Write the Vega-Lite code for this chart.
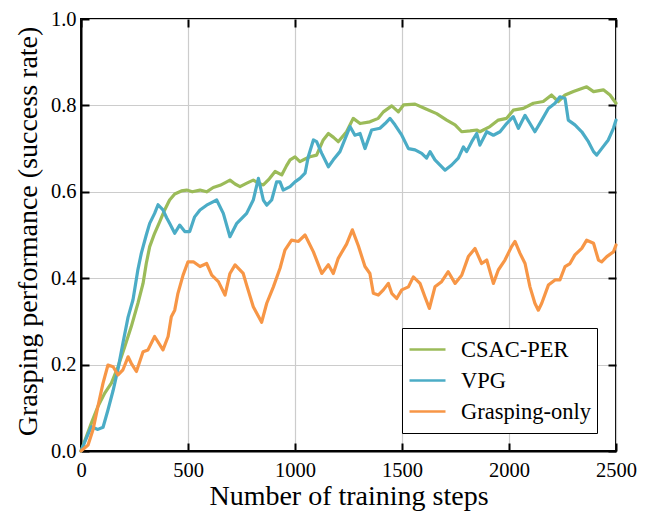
{
  "$schema": "https://vega.github.io/schema/vega-lite/v6.json",
  "width": 535,
  "height": 432,
  "autosize": {"type": "none"},
  "padding": {"left": 81, "top": 19, "right": 30, "bottom": 60},
  "background": "white",
  "config": {
    "font": "Liberation Serif",
    "style": {"guide-label": {"font": "Liberation Serif"}, "guide-title": {"font": "Liberation Serif"}},
    "view": {"stroke": "black", "strokeWidth": 2},
    "axis": {
      "labelFont": "Liberation Serif",
      "titleFont": "Liberation Serif",
      "labelColor": "black",
      "titleColor": "black",
      "labelFontSize": 20.5,
      "titleFontSize": 28,
      "titleFontWeight": "normal",
      "domainColor": "black",
      "domainWidth": 2,
      "tickColor": "black",
      "tickWidth": 2,
      "tickSize": -8,
      "gridColor": "#cccccc",
      "gridWidth": 1.2,
      "gridOpacity": 1
    },
    "legend": {
      "labelFont": "Liberation Serif",
      "labelFontSize": 22.5,
      "labelColor": "black"
    }
  },
  "datasets": {
    "curves": [
      {"method": "CSAC-PER", "step": 0, "rate": 0},
      {"method": "CSAC-PER", "step": 48, "rate": 0.064},
      {"method": "CSAC-PER", "step": 79, "rate": 0.103},
      {"method": "CSAC-PER", "step": 111, "rate": 0.134},
      {"method": "CSAC-PER", "step": 142, "rate": 0.157},
      {"method": "CSAC-PER", "step": 173, "rate": 0.195},
      {"method": "CSAC-PER", "step": 204, "rate": 0.241},
      {"method": "CSAC-PER", "step": 235, "rate": 0.288},
      {"method": "CSAC-PER", "step": 266, "rate": 0.342},
      {"method": "CSAC-PER", "step": 290, "rate": 0.388},
      {"method": "CSAC-PER", "step": 305, "rate": 0.434},
      {"method": "CSAC-PER", "step": 321, "rate": 0.473},
      {"method": "CSAC-PER", "step": 344, "rate": 0.504},
      {"method": "CSAC-PER", "step": 368, "rate": 0.531},
      {"method": "CSAC-PER", "step": 391, "rate": 0.558},
      {"method": "CSAC-PER", "step": 414, "rate": 0.581},
      {"method": "CSAC-PER", "step": 438, "rate": 0.595},
      {"method": "CSAC-PER", "step": 469, "rate": 0.602},
      {"method": "CSAC-PER", "step": 494, "rate": 0.604},
      {"method": "CSAC-PER", "step": 520, "rate": 0.6},
      {"method": "CSAC-PER", "step": 556, "rate": 0.604},
      {"method": "CSAC-PER", "step": 587, "rate": 0.6},
      {"method": "CSAC-PER", "step": 618, "rate": 0.61},
      {"method": "CSAC-PER", "step": 650, "rate": 0.615},
      {"method": "CSAC-PER", "step": 681, "rate": 0.623},
      {"method": "CSAC-PER", "step": 696, "rate": 0.627},
      {"method": "CSAC-PER", "step": 720, "rate": 0.618},
      {"method": "CSAC-PER", "step": 743, "rate": 0.612},
      {"method": "CSAC-PER", "step": 775, "rate": 0.62},
      {"method": "CSAC-PER", "step": 805, "rate": 0.627},
      {"method": "CSAC-PER", "step": 830, "rate": 0.62},
      {"method": "CSAC-PER", "step": 852, "rate": 0.616},
      {"method": "CSAC-PER", "step": 880, "rate": 0.63},
      {"method": "CSAC-PER", "step": 907, "rate": 0.647},
      {"method": "CSAC-PER", "step": 938, "rate": 0.639},
      {"method": "CSAC-PER", "step": 960, "rate": 0.66},
      {"method": "CSAC-PER", "step": 977, "rate": 0.674},
      {"method": "CSAC-PER", "step": 1000, "rate": 0.681},
      {"method": "CSAC-PER", "step": 1023, "rate": 0.67},
      {"method": "CSAC-PER", "step": 1047, "rate": 0.676},
      {"method": "CSAC-PER", "step": 1070, "rate": 0.681},
      {"method": "CSAC-PER", "step": 1101, "rate": 0.685},
      {"method": "CSAC-PER", "step": 1132, "rate": 0.72},
      {"method": "CSAC-PER", "step": 1156, "rate": 0.735},
      {"method": "CSAC-PER", "step": 1180, "rate": 0.726},
      {"method": "CSAC-PER", "step": 1202, "rate": 0.716},
      {"method": "CSAC-PER", "step": 1241, "rate": 0.739},
      {"method": "CSAC-PER", "step": 1272, "rate": 0.77},
      {"method": "CSAC-PER", "step": 1304, "rate": 0.758},
      {"method": "CSAC-PER", "step": 1350, "rate": 0.762},
      {"method": "CSAC-PER", "step": 1389, "rate": 0.77},
      {"method": "CSAC-PER", "step": 1413, "rate": 0.785},
      {"method": "CSAC-PER", "step": 1452, "rate": 0.799},
      {"method": "CSAC-PER", "step": 1483, "rate": 0.785},
      {"method": "CSAC-PER", "step": 1507, "rate": 0.801},
      {"method": "CSAC-PER", "step": 1561, "rate": 0.803},
      {"method": "CSAC-PER", "step": 1607, "rate": 0.793},
      {"method": "CSAC-PER", "step": 1662, "rate": 0.781},
      {"method": "CSAC-PER", "step": 1709, "rate": 0.766},
      {"method": "CSAC-PER", "step": 1748, "rate": 0.755},
      {"method": "CSAC-PER", "step": 1779, "rate": 0.739},
      {"method": "CSAC-PER", "step": 1818, "rate": 0.741},
      {"method": "CSAC-PER", "step": 1849, "rate": 0.743},
      {"method": "CSAC-PER", "step": 1864, "rate": 0.739},
      {"method": "CSAC-PER", "step": 1911, "rate": 0.751},
      {"method": "CSAC-PER", "step": 1950, "rate": 0.766},
      {"method": "CSAC-PER", "step": 1989, "rate": 0.77},
      {"method": "CSAC-PER", "step": 2020, "rate": 0.789},
      {"method": "CSAC-PER", "step": 2067, "rate": 0.793},
      {"method": "CSAC-PER", "step": 2114, "rate": 0.805},
      {"method": "CSAC-PER", "step": 2160, "rate": 0.809},
      {"method": "CSAC-PER", "step": 2199, "rate": 0.824},
      {"method": "CSAC-PER", "step": 2230, "rate": 0.809},
      {"method": "CSAC-PER", "step": 2262, "rate": 0.824},
      {"method": "CSAC-PER", "step": 2301, "rate": 0.832},
      {"method": "CSAC-PER", "step": 2363, "rate": 0.843},
      {"method": "CSAC-PER", "step": 2395, "rate": 0.832},
      {"method": "CSAC-PER", "step": 2441, "rate": 0.836},
      {"method": "CSAC-PER", "step": 2472, "rate": 0.824},
      {"method": "CSAC-PER", "step": 2500, "rate": 0.805},

      {"method": "VPG", "step": 0, "rate": 0},
      {"method": "VPG", "step": 25, "rate": 0.03},
      {"method": "VPG", "step": 48, "rate": 0.056},
      {"method": "VPG", "step": 79, "rate": 0.05},
      {"method": "VPG", "step": 103, "rate": 0.055},
      {"method": "VPG", "step": 126, "rate": 0.095},
      {"method": "VPG", "step": 150, "rate": 0.14},
      {"method": "VPG", "step": 173, "rate": 0.19},
      {"method": "VPG", "step": 196, "rate": 0.25},
      {"method": "VPG", "step": 220, "rate": 0.31},
      {"method": "VPG", "step": 243, "rate": 0.35},
      {"method": "VPG", "step": 266, "rate": 0.42},
      {"method": "VPG", "step": 282, "rate": 0.458},
      {"method": "VPG", "step": 305, "rate": 0.5},
      {"method": "VPG", "step": 321, "rate": 0.527},
      {"method": "VPG", "step": 344, "rate": 0.55},
      {"method": "VPG", "step": 360, "rate": 0.57},
      {"method": "VPG", "step": 383, "rate": 0.558},
      {"method": "VPG", "step": 400, "rate": 0.54},
      {"method": "VPG", "step": 414, "rate": 0.527},
      {"method": "VPG", "step": 438, "rate": 0.504},
      {"method": "VPG", "step": 461, "rate": 0.523},
      {"method": "VPG", "step": 485, "rate": 0.508},
      {"method": "VPG", "step": 508, "rate": 0.508},
      {"method": "VPG", "step": 531, "rate": 0.542},
      {"method": "VPG", "step": 556, "rate": 0.558},
      {"method": "VPG", "step": 587, "rate": 0.569},
      {"method": "VPG", "step": 610, "rate": 0.575},
      {"method": "VPG", "step": 634, "rate": 0.581},
      {"method": "VPG", "step": 665, "rate": 0.55},
      {"method": "VPG", "step": 696, "rate": 0.496},
      {"method": "VPG", "step": 728, "rate": 0.527},
      {"method": "VPG", "step": 774, "rate": 0.55},
      {"method": "VPG", "step": 805, "rate": 0.581},
      {"method": "VPG", "step": 829, "rate": 0.631},
      {"method": "VPG", "step": 852, "rate": 0.581},
      {"method": "VPG", "step": 868, "rate": 0.569},
      {"method": "VPG", "step": 891, "rate": 0.581},
      {"method": "VPG", "step": 914, "rate": 0.623},
      {"method": "VPG", "step": 930, "rate": 0.623},
      {"method": "VPG", "step": 945, "rate": 0.604},
      {"method": "VPG", "step": 977, "rate": 0.612},
      {"method": "VPG", "step": 1000, "rate": 0.623},
      {"method": "VPG", "step": 1023, "rate": 0.631},
      {"method": "VPG", "step": 1047, "rate": 0.643},
      {"method": "VPG", "step": 1062, "rate": 0.681},
      {"method": "VPG", "step": 1086, "rate": 0.72},
      {"method": "VPG", "step": 1101, "rate": 0.716},
      {"method": "VPG", "step": 1125, "rate": 0.689},
      {"method": "VPG", "step": 1156, "rate": 0.658},
      {"method": "VPG", "step": 1179, "rate": 0.674},
      {"method": "VPG", "step": 1210, "rate": 0.693},
      {"method": "VPG", "step": 1257, "rate": 0.751},
      {"method": "VPG", "step": 1280, "rate": 0.731},
      {"method": "VPG", "step": 1304, "rate": 0.735},
      {"method": "VPG", "step": 1327, "rate": 0.7},
      {"method": "VPG", "step": 1358, "rate": 0.743},
      {"method": "VPG", "step": 1397, "rate": 0.747},
      {"method": "VPG", "step": 1421, "rate": 0.758},
      {"method": "VPG", "step": 1444, "rate": 0.77},
      {"method": "VPG", "step": 1467, "rate": 0.755},
      {"method": "VPG", "step": 1499, "rate": 0.731},
      {"method": "VPG", "step": 1530, "rate": 0.7},
      {"method": "VPG", "step": 1561, "rate": 0.697},
      {"method": "VPG", "step": 1592, "rate": 0.689},
      {"method": "VPG", "step": 1615, "rate": 0.678},
      {"method": "VPG", "step": 1631, "rate": 0.693},
      {"method": "VPG", "step": 1654, "rate": 0.674},
      {"method": "VPG", "step": 1678, "rate": 0.662},
      {"method": "VPG", "step": 1701, "rate": 0.65},
      {"method": "VPG", "step": 1732, "rate": 0.662},
      {"method": "VPG", "step": 1763, "rate": 0.678},
      {"method": "VPG", "step": 1787, "rate": 0.704},
      {"method": "VPG", "step": 1802, "rate": 0.693},
      {"method": "VPG", "step": 1826, "rate": 0.716},
      {"method": "VPG", "step": 1849, "rate": 0.735},
      {"method": "VPG", "step": 1864, "rate": 0.708},
      {"method": "VPG", "step": 1896, "rate": 0.739},
      {"method": "VPG", "step": 1927, "rate": 0.731},
      {"method": "VPG", "step": 1958, "rate": 0.739},
      {"method": "VPG", "step": 1989, "rate": 0.758},
      {"method": "VPG", "step": 2020, "rate": 0.774},
      {"method": "VPG", "step": 2044, "rate": 0.747},
      {"method": "VPG", "step": 2075, "rate": 0.777},
      {"method": "VPG", "step": 2098, "rate": 0.758},
      {"method": "VPG", "step": 2121, "rate": 0.739},
      {"method": "VPG", "step": 2153, "rate": 0.766},
      {"method": "VPG", "step": 2184, "rate": 0.793},
      {"method": "VPG", "step": 2215, "rate": 0.805},
      {"method": "VPG", "step": 2238, "rate": 0.82},
      {"method": "VPG", "step": 2262, "rate": 0.816},
      {"method": "VPG", "step": 2277, "rate": 0.766},
      {"method": "VPG", "step": 2308, "rate": 0.755},
      {"method": "VPG", "step": 2340, "rate": 0.739},
      {"method": "VPG", "step": 2371, "rate": 0.716},
      {"method": "VPG", "step": 2395, "rate": 0.693},
      {"method": "VPG", "step": 2410, "rate": 0.685},
      {"method": "VPG", "step": 2433, "rate": 0.7},
      {"method": "VPG", "step": 2464, "rate": 0.72},
      {"method": "VPG", "step": 2488, "rate": 0.747},
      {"method": "VPG", "step": 2500, "rate": 0.766},

      {"method": "Grasping-only", "step": 0, "rate": 0},
      {"method": "Grasping-only", "step": 33, "rate": 0.014},
      {"method": "Grasping-only", "step": 56, "rate": 0.049},
      {"method": "Grasping-only", "step": 79, "rate": 0.103},
      {"method": "Grasping-only", "step": 103, "rate": 0.157},
      {"method": "Grasping-only", "step": 126, "rate": 0.199},
      {"method": "Grasping-only", "step": 150, "rate": 0.195},
      {"method": "Grasping-only", "step": 173, "rate": 0.176},
      {"method": "Grasping-only", "step": 196, "rate": 0.188},
      {"method": "Grasping-only", "step": 220, "rate": 0.218},
      {"method": "Grasping-only", "step": 235, "rate": 0.203},
      {"method": "Grasping-only", "step": 259, "rate": 0.184},
      {"method": "Grasping-only", "step": 290, "rate": 0.23},
      {"method": "Grasping-only", "step": 313, "rate": 0.234},
      {"method": "Grasping-only", "step": 344, "rate": 0.265},
      {"method": "Grasping-only", "step": 383, "rate": 0.234},
      {"method": "Grasping-only", "step": 407, "rate": 0.265},
      {"method": "Grasping-only", "step": 422, "rate": 0.311},
      {"method": "Grasping-only", "step": 438, "rate": 0.326},
      {"method": "Grasping-only", "step": 453, "rate": 0.365},
      {"method": "Grasping-only", "step": 477, "rate": 0.407},
      {"method": "Grasping-only", "step": 500, "rate": 0.438},
      {"method": "Grasping-only", "step": 525, "rate": 0.438},
      {"method": "Grasping-only", "step": 556, "rate": 0.427},
      {"method": "Grasping-only", "step": 587, "rate": 0.434},
      {"method": "Grasping-only", "step": 611, "rate": 0.407},
      {"method": "Grasping-only", "step": 642, "rate": 0.392},
      {"method": "Grasping-only", "step": 673, "rate": 0.361},
      {"method": "Grasping-only", "step": 696, "rate": 0.411},
      {"method": "Grasping-only", "step": 720, "rate": 0.431},
      {"method": "Grasping-only", "step": 758, "rate": 0.411},
      {"method": "Grasping-only", "step": 774, "rate": 0.384},
      {"method": "Grasping-only", "step": 805, "rate": 0.334},
      {"method": "Grasping-only", "step": 844, "rate": 0.298},
      {"method": "Grasping-only", "step": 868, "rate": 0.342},
      {"method": "Grasping-only", "step": 899, "rate": 0.38},
      {"method": "Grasping-only", "step": 930, "rate": 0.423},
      {"method": "Grasping-only", "step": 953, "rate": 0.465},
      {"method": "Grasping-only", "step": 984, "rate": 0.488},
      {"method": "Grasping-only", "step": 1016, "rate": 0.485},
      {"method": "Grasping-only", "step": 1047, "rate": 0.5},
      {"method": "Grasping-only", "step": 1086, "rate": 0.461},
      {"method": "Grasping-only", "step": 1125, "rate": 0.411},
      {"method": "Grasping-only", "step": 1156, "rate": 0.431},
      {"method": "Grasping-only", "step": 1179, "rate": 0.411},
      {"method": "Grasping-only", "step": 1202, "rate": 0.446},
      {"method": "Grasping-only", "step": 1241, "rate": 0.479},
      {"method": "Grasping-only", "step": 1268, "rate": 0.512},
      {"method": "Grasping-only", "step": 1296, "rate": 0.475},
      {"method": "Grasping-only", "step": 1327, "rate": 0.427},
      {"method": "Grasping-only", "step": 1350, "rate": 0.411},
      {"method": "Grasping-only", "step": 1366, "rate": 0.365},
      {"method": "Grasping-only", "step": 1389, "rate": 0.361},
      {"method": "Grasping-only", "step": 1413, "rate": 0.373},
      {"method": "Grasping-only", "step": 1436, "rate": 0.388},
      {"method": "Grasping-only", "step": 1452, "rate": 0.365},
      {"method": "Grasping-only", "step": 1475, "rate": 0.353},
      {"method": "Grasping-only", "step": 1499, "rate": 0.373},
      {"method": "Grasping-only", "step": 1530, "rate": 0.38},
      {"method": "Grasping-only", "step": 1553, "rate": 0.403},
      {"method": "Grasping-only", "step": 1584, "rate": 0.388},
      {"method": "Grasping-only", "step": 1607, "rate": 0.357},
      {"method": "Grasping-only", "step": 1628, "rate": 0.33},
      {"method": "Grasping-only", "step": 1654, "rate": 0.38},
      {"method": "Grasping-only", "step": 1685, "rate": 0.392},
      {"method": "Grasping-only", "step": 1716, "rate": 0.415},
      {"method": "Grasping-only", "step": 1748, "rate": 0.388},
      {"method": "Grasping-only", "step": 1779, "rate": 0.407},
      {"method": "Grasping-only", "step": 1810, "rate": 0.45},
      {"method": "Grasping-only", "step": 1841, "rate": 0.469},
      {"method": "Grasping-only", "step": 1872, "rate": 0.434},
      {"method": "Grasping-only", "step": 1896, "rate": 0.442},
      {"method": "Grasping-only", "step": 1927, "rate": 0.388},
      {"method": "Grasping-only", "step": 1950, "rate": 0.419},
      {"method": "Grasping-only", "step": 1981, "rate": 0.442},
      {"method": "Grasping-only", "step": 2012, "rate": 0.473},
      {"method": "Grasping-only", "step": 2028, "rate": 0.485},
      {"method": "Grasping-only", "step": 2051, "rate": 0.458},
      {"method": "Grasping-only", "step": 2075, "rate": 0.434},
      {"method": "Grasping-only", "step": 2098, "rate": 0.38},
      {"method": "Grasping-only", "step": 2121, "rate": 0.342},
      {"method": "Grasping-only", "step": 2137, "rate": 0.326},
      {"method": "Grasping-only", "step": 2153, "rate": 0.342},
      {"method": "Grasping-only", "step": 2184, "rate": 0.384},
      {"method": "Grasping-only", "step": 2215, "rate": 0.396},
      {"method": "Grasping-only", "step": 2238, "rate": 0.396},
      {"method": "Grasping-only", "step": 2262, "rate": 0.427},
      {"method": "Grasping-only", "step": 2285, "rate": 0.434},
      {"method": "Grasping-only", "step": 2308, "rate": 0.454},
      {"method": "Grasping-only", "step": 2340, "rate": 0.469},
      {"method": "Grasping-only", "step": 2363, "rate": 0.488},
      {"method": "Grasping-only", "step": 2395, "rate": 0.481},
      {"method": "Grasping-only", "step": 2418, "rate": 0.442},
      {"method": "Grasping-only", "step": 2433, "rate": 0.438},
      {"method": "Grasping-only", "step": 2457, "rate": 0.45},
      {"method": "Grasping-only", "step": 2488, "rate": 0.461},
      {"method": "Grasping-only", "step": 2500, "rate": 0.477}
    ]
  },
  "data": {"name": "curves"},
  "layer": [
    {
      "mark": {"type": "line", "strokeWidth": 3.2, "strokeJoin": "round", "strokeCap": "round"},
      "encoding": {
        "x": {
          "field": "step", "type": "quantitative",
          "scale": {"domain": [0, 2500], "nice": false, "zero": false},
          "axis": {
            "orient": "bottom", "values": [0, 500, 1000, 1500, 2000, 2500], "format": "d",
            "title": "Number of training steps", "grid": true,
            "labelFont": "Liberation Serif", "titleFont": "Liberation Serif",
            "tickSize": -8, "ticks": true,
            "labelPadding": 17, "labelFlush": false,
            "titleBaseline": "alphabetic", "titleY": 53, "titleX": 267.5, "titleAnchor": "middle"
          }
        },
        "y": {
          "field": "rate", "type": "quantitative",
          "scale": {"domain": [0, 1], "nice": false},
          "axis": {
            "orient": "left", "values": [0, 0.2, 0.4, 0.6, 0.8, 1.0], "format": ".1f",
            "title": "Grasping performance (success rate)", "grid": true,
            "labelFont": "Liberation Serif", "titleFont": "Liberation Serif",
            "tickSize": -8, "ticks": true,
            "labelPadding": 13, "labelFlush": false,
            "titleBaseline": "alphabetic", "titleX": -45, "titleY": 212, "titleAngle": -90, "titleAnchor": "middle"
          }
        },
        "color": {
          "field": "method", "type": "nominal", "sort": null,
          "scale": {"domain": ["CSAC-PER", "VPG", "Grasping-only"], "range": ["#9BBB59", "#4BACC6", "#F79646"]},
          "legend": {
            "title": null, "orient": "none", "legendX": 321, "legendY": 309,
            "symbolType": "stroke", "symbolSize": 1296, "symbolStrokeWidth": 2.5,
            "labelFont": "Liberation Serif",
            "labelOffset": 14, "padding": 6, "clipHeight": 31, "rowPadding": 0,
            "strokeColor": "black", "fillColor": "white", "cornerRadius": 0
          }
        }
      }
    },
    {
      "mark": {"type": "line", "opacity": 0},
      "encoding": {
        "x": {
          "field": "step", "type": "quantitative",
          "axis": {"orient": "top", "values": [0, 500, 1000, 1500, 2000, 2500], "labels": false, "title": null, "grid": false, "domain": false, "tickSize": -8}
        },
        "y": {
          "field": "rate", "type": "quantitative",
          "axis": {"orient": "right", "values": [0, 0.2, 0.4, 0.6, 0.8, 1.0], "labels": false, "title": null, "grid": false, "domain": false, "tickSize": -8}
        },
        "detail": {"field": "method"}
      }
    }
  ],
  "resolve": {"axis": {"x": "independent", "y": "independent"}}
}
